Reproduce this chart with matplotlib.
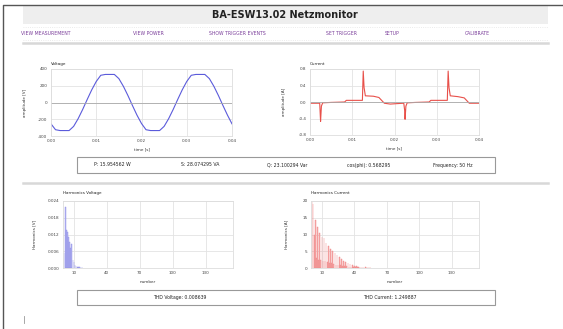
import matplotlib
matplotlib.use("Agg")
import matplotlib.pyplot as plt
from matplotlib.patches import Rectangle
from matplotlib.lines import Line2D

plt.rcParams["axes.unicode_minus"] = False

W, H = 563, 329

# ---- data ----
t_volt = [0.000, 0.001, 0.002, 0.003, 0.004, 0.005, 0.006, 0.007, 0.008, 0.009,
          0.010, 0.011, 0.012, 0.013, 0.014, 0.015, 0.016, 0.017, 0.018, 0.019,
          0.020, 0.021, 0.022, 0.023, 0.024, 0.025, 0.026, 0.027, 0.028, 0.029,
          0.030, 0.031, 0.032, 0.033, 0.034, 0.035, 0.036, 0.037, 0.038, 0.039, 0.040]
volt = [-255, -325, -335, -335, -335, -285, -193, -83, 36, 151,
        251, 325, 335, 335, 335, 285, 193, 83, -36, -151,
        -251, -325, -335, -335, -335, -285, -193, -83, 36, 151,
        251, 325, 335, 335, 335, 285, 193, 83, -36, -151, -255]

t_curr = [0.0, 0.0023, 0.0024, 0.0025, 0.0027, 0.0030, 0.005, 0.0082, 0.0086, 0.0124,
          0.0126, 0.0128, 0.0131, 0.0150, 0.0163, 0.0176, 0.0190, 0.0205, 0.0222, 0.0224,
          0.0225, 0.0227, 0.0230, 0.0250, 0.0282, 0.0286, 0.0325, 0.0327, 0.0329, 0.0332,
          0.0350, 0.0365, 0.0377, 0.0400]
curr = [-0.03, -0.03, -0.25, -0.47, -0.10, -0.02, -0.01, 0.00, 0.04, 0.04,
        0.75, 0.35, 0.15, 0.14, 0.11, -0.03, -0.05, -0.04, -0.03, -0.20,
        -0.42, -0.10, -0.02, -0.01, 0.00, 0.04, 0.04, 0.75, 0.35, 0.15,
        0.13, 0.10, -0.03, -0.03]

harm_n_volt = list(range(1, 19))
harm_volt = [0.0052, 0.0217, 0.0136, 0.0130, 0.0110, 0.0094, 0.0070, 0.0085, 0.0030, 0.0020,
             0.0012, 0.0008, 0.0005, 0.0003, 0.0002, 0.0001, 0.0001, 0.0001]
harm_n_curr = list(range(1, 56))
harm_curr = [19.8, 19.0, 10.0, 14.2, 3.0, 12.3, 2.5, 10.5, 2.5, 9.3,
             2.2, 9.0, 2.0, 7.5, 1.8, 6.5, 1.6, 5.8, 1.4, 5.0,
             1.2, 4.4, 1.0, 3.8, 0.9, 3.2, 0.8, 2.7, 0.7, 2.2,
             0.6, 1.8, 0.5, 1.4, 0.4, 1.1, 0.3, 0.9, 0.3, 0.7,
             0.2, 0.5, 0.2, 0.4, 0.1, 0.3, 0.1, 0.2, 0.1, 0.15,
             0.1, 0.1, 0.05, 0.05, 0.05]

nav_items = ["VIEW MEASUREMENT", "VIEW POWER", "SHOW TRIGGER EVENTS",
             "SET TRIGGER", "SETUP", "CALIBRATE"]
nav_x = [46, 148, 237, 342, 392, 477]

stats = ["P: 15.954562 W", "S: 28.074295 VA", "Q: 23.100294 Var",
         "cos(phi): 0.568295", "Frequency: 50 Hz"]
stats_x = [112, 200, 287, 369, 453]
thd = ["THD Voltage: 0.008639", "THD Current: 1.249887"]
thd_x = [180, 390]

fig = plt.figure(figsize=(W / 100, H / 100), dpi=100)
fig.patch.set_facecolor("white")


def fx(x):
    return x / W


def fy(y):
    return 1 - y / H


def rect(x0, y0, x1, y1, **kw):
    fig.add_artist(Rectangle((fx(x0), fy(y1)), fx(x1) - fx(x0), fy(y0) - fy(y1),
                             transform=fig.transFigure, **kw))


def hline(x0, x1, y, **kw):
    fig.add_artist(Line2D([fx(x0), fx(x1)], [fy(y), fy(y)], transform=fig.transFigure, **kw))


def txt(x, y, s, **kw):
    fig.text(fx(x), fy(y), s, va="center", **kw)


# page frame
fig.add_artist(Line2D([fx(3), fx(3), fx(563)], [fy(329), fy(5), fy(5)],
                      transform=fig.transFigure, color="#555555", lw=1))
rect(23, 6, 548, 24, facecolor="#eeeeee", edgecolor="none")
txt(285, 14.5, "BA-ESW13.02 Netzmonitor", ha="center", fontsize=7, fontweight="bold", color="#222222")

hline(23, 548, 27, color="#e4e4e4", lw=0.6, ls=":")
hline(23, 548, 40, color="#e4e4e4", lw=0.6, ls=":")
for s, x in zip(nav_items, nav_x):
    txt(x, 33.5, s, ha="center", fontsize=3.3, color="#7a3d9a")
hline(23, 548, 43, color="#d8d8d8", lw=1.8)
hline(23, 548, 183, color="#d8d8d8", lw=1.8)

# stats boxes
rect(77, 157, 495, 173, facecolor="white", edgecolor="#999999", lw=0.8)
for s, x in zip(stats, stats_x):
    txt(x, 165, s, ha="center", fontsize=3.3, color="#222222")
rect(77, 290, 495, 305, facecolor="white", edgecolor="#999999", lw=0.8)
for s, x in zip(thd, thd_x):
    txt(x, 297.5, s, ha="center", fontsize=3.3, color="#222222")
fig.add_artist(Line2D([fx(24), fx(24)], [fy(316), fy(323)], transform=fig.transFigure,
                      color="#999999", lw=0.6))


def make_ax(l, t, r, b):
    ax = fig.add_axes([fx(l), fy(b), fx(r) - fx(l), fy(t) - fy(b)])
    ax.set_facecolor("white")
    for sp in ax.spines.values():
        sp.set_color("#dddddd")
        sp.set_linewidth(0.6)
    ax.grid(True, color="#e3e3e3", lw=0.6)
    ax.set_axisbelow(True)
    ax.tick_params(length=0, labelsize=3, colors="#444444", pad=2.5)
    return ax


# voltage
ax = make_ax(51, 69, 232, 136)
ax.plot(t_volt, volt, color="#5b5bdb", lw=0.8)
ax.axhline(0, color="#aaaaaa", lw=0.6)
ax.set_xlim(0, 0.04)
ax.set_ylim(-400, 400)
ax.set_xticks([0, 0.01, 0.02, 0.03, 0.04])
ax.set_xticklabels(["0.00", "0.01", "0.02", "0.03", "0.04"])
ax.set_yticks([-400, -200, 0, 200, 400])
ax.set_xlabel("time [s]", fontsize=3, color="#333333", labelpad=3)
ax.set_ylabel("amplitude [V]", fontsize=3, color="#333333", labelpad=8)
ax.set_title("Voltage", fontsize=3, loc="left", color="#222222", pad=3)

# current
ax = make_ax(310, 69, 479, 135)
ax.plot(t_curr, curr, color="#e8504a", lw=0.8)
ax.axhline(0, color="#aaaaaa", lw=0.6)
ax.set_xlim(0, 0.04)
ax.set_ylim(-0.8, 0.8)
ax.set_xticks([0, 0.01, 0.02, 0.03, 0.04])
ax.set_xticklabels(["0.00", "0.01", "0.02", "0.03", "0.04"])
ax.set_yticks([-0.8, -0.4, 0.0, 0.4, 0.8])
ax.set_yticklabels(["-0.8", "-0.4", "0.0", "0.4", "0.8"])
ax.set_xlabel("time [s]", fontsize=3, color="#333333", labelpad=3)
ax.set_ylabel("amplitude [A]", fontsize=3, color="#333333", labelpad=9)
ax.set_title("Current", fontsize=3, loc="left", color="#222222", pad=3)

# harmonics voltage
ax = make_ax(63, 201, 233, 268)
ax.bar(harm_n_volt, harm_volt, width=0.6, color="#b9b9f2", edgecolor="#8c8ce6", lw=0.3)
ax.set_xlim(0, 155)
ax.set_ylim(0, 0.024)
ax.set_xticks([10, 40, 70, 100, 130])
ax.set_yticks([0, 0.006, 0.012, 0.018, 0.024])
ax.set_yticklabels(["0.000", "0.006", "0.012", "0.018", "0.024"])
ax.set_xlabel("number", fontsize=3, color="#333333", labelpad=3)
ax.set_ylabel("Harmonics [V]", fontsize=3, color="#333333", labelpad=8)
ax.set_title("Harmonics Voltage", fontsize=3, loc="left", color="#222222", pad=5)

# harmonics current
ax = make_ax(311, 201, 479, 268)
ax.bar(harm_n_curr, harm_curr, width=0.6, color="#f7b3b3", edgecolor="#ee8080", lw=0.3)
ax.set_xlim(0, 155)
ax.set_ylim(0, 20)
ax.set_xticks([10, 40, 70, 100, 130])
ax.set_yticks([0, 5, 10, 15, 20])
ax.set_xlabel("number", fontsize=3, color="#333333", labelpad=3)
ax.set_ylabel("Harmonics [A]", fontsize=3, color="#333333", labelpad=10)
ax.set_title("Harmonics Current", fontsize=3, loc="left", color="#222222", pad=5)

fig.savefig("out.png", dpi=100)
